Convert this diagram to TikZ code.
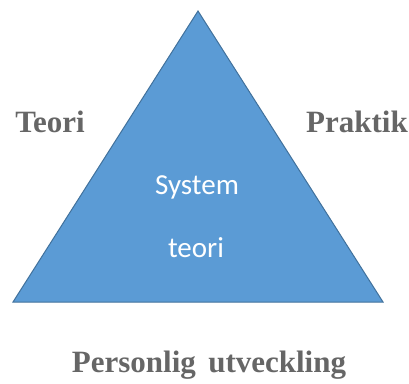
\documentclass[tikz,border=0pt]{standalone}
\usepackage{fontspec}
\setmainfont{Liberation Serif}
\newfontfamily\calibri{Carlito}
\usepackage{tikz}

\definecolor{triblue}{HTML}{5B9BD5}
\definecolor{triedge}{HTML}{41719C}
\definecolor{labgray}{HTML}{666666}

\begin{document}
\begin{tikzpicture}[x=1pt, y=-1pt,
            side/.style = {text=labgray, font=\bfseries\fontsize{31}{31}\selectfont},
            inner/.style = {text=white, font=\calibri\fontsize{29}{29}\selectfont}]
            \useasboundingbox (0,0) rectangle (409,383);
            \coordinate (apex) at (198,11);
            \coordinate (bl) at (13,302);
            \coordinate (br) at (383,302);
            \draw[triedge, fill=triblue, line width=1pt] (apex) -- (br) -- (bl) -- cycle;
            \node[inner] (sys) at (197,187) {System};
            \node[inner] (teo) at (196,248) {teori};
            \node[side] (teori) at (50,122) {Teori};
            \node[side] (praktik) at (357,122) {Praktik};
            \node[side] (pers) at (209,365) {Personlig\hspace{0.4em}utveckling};
        \end{tikzpicture}
\end{document}
